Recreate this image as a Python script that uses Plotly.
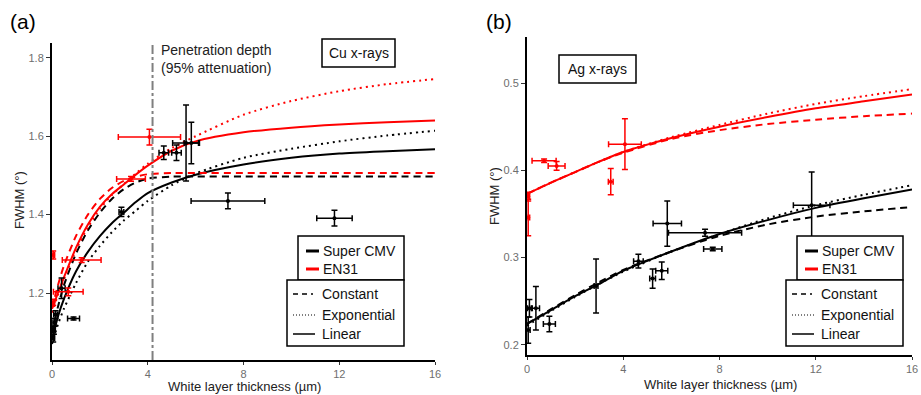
import plotly.graph_objects as go

W, H = 921, 395
FONT = "Liberation Sans"
RED = "#ff0000"
BLK = "#000000"

# ---------------- Panel (a): Cu x-rays ----------------
pen_depth_a = 4.2

a_black_x = [0.05, 0.08, 0.1, 0.15, 0.4, 0.9, 2.9, 4.67, 5.2, 5.6, 5.82, 7.35, 11.8]
a_black_y = [1.085, 1.105, 1.125, 1.145, 1.212, 1.135, 1.407, 1.558, 1.558, 1.583, 1.583, 1.435, 1.391]
a_black_xe = [0.06, 0.06, 0.06, 0.08, 0.15, 0.25, 0.1, 0.2, 0.2, 0.56, 0.3, 1.54, 0.74]
a_black_ye = [0.01, 0.01, 0.01, 0.01, 0.026, 0.004, 0.012, 0.017, 0.02, 0.097, 0.053, 0.02, 0.02]

a_red_x = [0.05, 0.05, 0.68, 1.24, 3.3, 4.07]
a_red_y = [1.297, 1.176, 1.203, 1.284, 1.491, 1.598]
a_red_xe = [0.06, 0.06, 0.62, 0.81, 0.6, 1.3]
a_red_ye = [0.01, 0.008, 0.01, 0.006, 0.006, 0.02]

a_fit_x = [0, 0.25, 0.5, 1, 1.5, 2, 2.5, 3, 3.5, 4, 5, 6, 8, 10, 12, 14, 16]
a_black_const = [1.10, 1.165, 1.22, 1.30, 1.36, 1.405, 1.44, 1.465, 1.482, 1.492, 1.497, 1.497, 1.497, 1.497, 1.497, 1.497, 1.497]
a_black_exp = [1.07, 1.12, 1.16, 1.225, 1.28, 1.32, 1.355, 1.385, 1.41, 1.435, 1.475, 1.505, 1.545, 1.568, 1.587, 1.602, 1.614]
a_black_lin = [1.08, 1.14, 1.185, 1.255, 1.305, 1.345, 1.378, 1.405, 1.432, 1.455, 1.482, 1.502, 1.528, 1.545, 1.556, 1.562, 1.567]
a_red_const = [1.16, 1.22, 1.27, 1.345, 1.40, 1.44, 1.468, 1.486, 1.497, 1.503, 1.506, 1.506, 1.506, 1.506, 1.506, 1.506, 1.506]
a_red_exp = [1.15, 1.195, 1.235, 1.31, 1.368, 1.415, 1.45, 1.478, 1.505, 1.53, 1.57, 1.60, 1.655, 1.69, 1.715, 1.733, 1.746]
a_red_lin = [1.16, 1.2, 1.24, 1.315, 1.375, 1.42, 1.452, 1.477, 1.502, 1.525, 1.563, 1.587, 1.61, 1.622, 1.63, 1.636, 1.64]

a_yticks = [1.2, 1.4, 1.6, 1.8]

# ---------------- Panel (b): Ag x-rays ----------------
b_black_x = [0.05, 0.1, 0.37, 0.93, 2.87, 4.63, 5.22, 5.6, 5.83, 7.4, 7.72, 11.83]
b_black_y = [0.217, 0.242, 0.242, 0.224, 0.2675, 0.296, 0.276, 0.285, 0.339, 0.3285, 0.31, 0.36]
b_black_xe = [0.08, 0.08, 0.15, 0.25, 0.08, 0.2, 0.12, 0.25, 0.59, 1.52, 0.38, 0.76]
b_black_ye = [0.015, 0.01, 0.025, 0.009, 0.031, 0.008, 0.011, 0.01, 0.026, 0.004, 0.002, 0.038]

b_red_x = [0.05, 0.05, 0.71, 1.23, 3.48, 4.07]
b_red_y = [0.37, 0.346, 0.411, 0.405, 0.387, 0.43]
b_red_xe = [0.06, 0.06, 0.5, 0.35, 0.1, 0.68]
b_red_ye = [0.005, 0.021, 0.002, 0.005, 0.015, 0.029]

b_fit_x = [0, 1, 2, 3, 4, 6, 8, 10, 12, 14, 16]
b_black_const = [0.224, 0.241, 0.257, 0.272, 0.286, 0.307, 0.325, 0.338, 0.347, 0.353, 0.358]
b_black_exp = [0.222, 0.239, 0.255, 0.27, 0.284, 0.307, 0.327, 0.345, 0.36, 0.372, 0.383]
b_black_lin = [0.224, 0.24, 0.256, 0.27, 0.285, 0.307, 0.327, 0.343, 0.357, 0.368, 0.378]
b_red_const = [0.373, 0.386, 0.398, 0.41, 0.42, 0.436, 0.446, 0.453, 0.458, 0.462, 0.465]
b_red_exp = [0.373, 0.386, 0.398, 0.41, 0.421, 0.438, 0.452, 0.465, 0.476, 0.485, 0.493]
b_red_lin = [0.373, 0.386, 0.398, 0.41, 0.421, 0.437, 0.45, 0.461, 0.471, 0.479, 0.487]

b_yticks = [0.2, 0.3, 0.4, 0.5]

x_ticks = [0, 4, 8, 12, 16]
x_title = "White layer thickness (µm)"
y_title = "FWHM (°)"
legend_groups = ["Super CMV", "EN31"]
legend_models = ["Constant", "Exponential", "Linear"]


def px(x):
    return x / W


def py(y):
    return 1 - y / H


fig = go.Figure()


def add_fits(fitx, series, xr, yr):
    for ys, col, dash in series:
        fig.add_trace(go.Scatter(x=fitx, y=ys, mode="lines", xaxis=xr, yaxis=yr,
                                 line=dict(color=col, width=2, dash=dash, shape="spline", smoothing=0.7),
                                 showlegend=False, hoverinfo="skip", cliponaxis=False))


def add_points(xs, ys, xe, ye, col, xr, yr):
    fig.add_trace(go.Scatter(x=xs, y=ys, mode="markers", xaxis=xr, yaxis=yr,
                             marker=dict(color=col, size=4),
                             error_x=dict(type="data", array=xe, color=col, thickness=1.5, width=3),
                             error_y=dict(type="data", array=ye, color=col, thickness=1.5, width=3),
                             showlegend=False, cliponaxis=False))


DOT = "2px,4px"
DASH = "7px,5px"
add_fits(a_fit_x, [
    (a_black_const, BLK, DASH), (a_black_exp, BLK, DOT), (a_black_lin, BLK, "solid"),
    (a_red_const, RED, DASH), (a_red_exp, RED, DOT), (a_red_lin, RED, "solid")], "x", "y")
add_points(a_black_x, a_black_y, a_black_xe, a_black_ye, BLK, "x", "y")
add_points(a_red_x, a_red_y, a_red_xe, a_red_ye, RED, "x", "y")

add_fits(b_fit_x, [
    (b_black_const, BLK, DASH), (b_black_exp, BLK, DOT), (b_black_lin, BLK, "solid"),
    (b_red_const, RED, DASH), (b_red_exp, RED, DOT), (b_red_lin, RED, "solid")], "x2", "y2")
add_points(b_black_x, b_black_y, b_black_xe, b_black_ye, BLK, "x2", "y2")
add_points(b_red_x, b_red_y, b_red_xe, b_red_ye, RED, "x2", "y2")

axis_common = dict(showline=True, linecolor="black", linewidth=2, ticks="outside",
                   tickwidth=1, tickcolor="#333", showgrid=False, zeroline=False, automargin=False,
                   tickfont=dict(family=FONT, size=11, color="#6e6e6e"))

fig.update_layout(
    width=W, height=H, margin=dict(l=0, r=0, t=0, b=0, autoexpand=False),
    paper_bgcolor="white", plot_bgcolor="white", showlegend=False,
    font=dict(family=FONT, color="black"),
    xaxis=dict(domain=[px(52), px(435)], range=[0, 16], tickvals=x_ticks, anchor="y", ticklen=3,
               **axis_common),
    yaxis=dict(domain=[py(360), py(43)], range=[1.029, 1.838], tickvals=a_yticks, anchor="x",
               tickformat=".1f", ticklen=4, **axis_common),
    xaxis2=dict(domain=[px(527), px(912)], range=[0, 16], tickvals=x_ticks, anchor="y2", ticklen=3,
                **axis_common),
    yaxis2=dict(domain=[py(355), py(37)], range=[0.1885, 0.5527], tickvals=b_yticks, anchor="x2",
                tickformat=".1f", ticklen=4, **axis_common),
)

shapes = []
annotations = []

# penetration depth line
shapes.append(dict(type="line", xref="x", yref="y domain", x0=pen_depth_a, x1=pen_depth_a, y0=0, y1=1,
                   line=dict(color="#7f7f7f", width=2, dash="dashdot")))
annotations.append(dict(xref="paper", yref="paper", x=px(159), y=py(40), xanchor="left", yanchor="top",
                        text="Penetration depth<br>(95% attenuation)", showarrow=False, align="left",
                        font=dict(family=FONT, size=14, color="#222")))

# panel labels
annotations.append(dict(xref="paper", yref="paper", x=px(8), y=py(8), xanchor="left", yanchor="top",
                        text="(a)", showarrow=False, font=dict(family=FONT, size=21, color="black")))
annotations.append(dict(xref="paper", yref="paper", x=px(484), y=py(8), xanchor="left", yanchor="top",
                        text="(b)", showarrow=False, font=dict(family=FONT, size=21, color="black")))

# axis titles
for cx, cy in ((244, 386.5), (720, 384)):
    annotations.append(dict(xref="paper", yref="paper", x=px(cx), y=py(cy), xanchor="center", yanchor="middle",
                            text=x_title, showarrow=False, font=dict(family=FONT, size=13, color="#222")))
for cx, cy in ((19, 200), (494, 196)):
    annotations.append(dict(xref="paper", yref="paper", x=px(cx), y=py(cy), xanchor="center", yanchor="middle",
                            text=y_title, textangle=-90, showarrow=False,
                            font=dict(family=FONT, size=13, color="#222")))


def box(x0, y0, x1, y1):
    shapes.append(dict(type="rect", xref="paper", yref="paper", x0=px(x0), x1=px(x1), y0=py(y1), y1=py(y0),
                       line=dict(color="black", width=1.5), fillcolor="white", layer="above"))


def text(x, y, s, anchor="left", size=14):
    annotations.append(dict(xref="paper", yref="paper", x=px(x), y=py(y), xanchor=anchor, yanchor="middle",
                            text=s, showarrow=False, font=dict(family=FONT, size=size, color="#111")))


def seg(x0, x1, y, col, width, dash="solid"):
    shapes.append(dict(type="line", xref="paper", yref="paper", x0=px(x0), x1=px(x1), y0=py(y), y1=py(y),
                       line=dict(color=col, width=width, dash=dash), layer="above"))


# title boxes
box(322, 39, 395, 67)
text(358.5, 53, "Cu x-rays", anchor="center")
box(559, 55, 636, 83)
text(597.5, 69, "Ag x-rays", anchor="center")

# legends
for off in (0, 499):
    box(298 + off, 236, 404 + off, 280)
    seg(306 + off, 319 + off, 251, BLK, 3)
    text(321 + off, 251, legend_groups[0])
    seg(306 + off, 319 + off, 269, RED, 3)
    text(321 + off, 269, legend_groups[1])
    box(287 + off, 280, 404 + off, 346)
    x0 = 293 + off
    seg(x0, x0 + 20, 294, BLK, 1.5, "5px,4px")
    text(x0 + 27, 294, legend_models[0])
    seg(x0, x0 + 23, 315, BLK, 1.2, "1px,2px")
    text(x0 + 27, 315, legend_models[1])
    seg(x0, x0 + 22, 334, BLK, 1.5)
    text(x0 + 27, 334, legend_models[2])

fig.update_layout(shapes=shapes, annotations=annotations)
fig.write_html("out.html", config={"displayModeBar": False},
               post_script="document.body.style.margin='0';document.body.style.overflow='hidden';")
